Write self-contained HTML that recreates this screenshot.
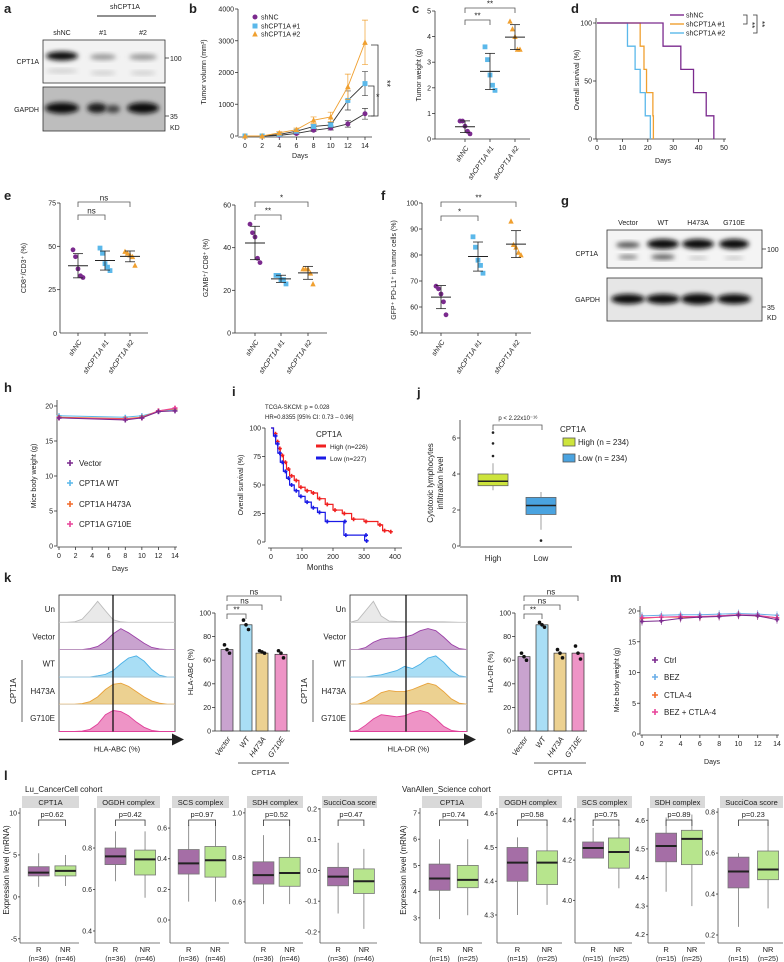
<!DOCTYPE html>
<html><head><meta charset="utf-8">
<style>body{margin:0;background:#fff}svg{display:block}text{font-family:"Liberation Sans",sans-serif}</style>
</head><body>
<svg id="fig" width="784" height="962" viewBox="0 0 784 962" xmlns="http://www.w3.org/2000/svg">
<defs>
<filter id="blur" x="-50%" y="-50%" width="200%" height="200%"><feGaussianBlur stdDeviation="2.4"/></filter>
<marker id="arrowhead" markerWidth="8" markerHeight="8" refX="6" refY="4" orient="auto"><path d="M0,0 L8,4 L0,8 z" fill="#222"/></marker>
</defs>
</svg>
<script>
// ---------- data ----------
const bDays=[0,2,4,6,8,10,12,14];
const bShNC=[0,0,20,80,180,250,380,700];
const bShNCErr=[0,0,15,30,40,60,100,170];
const bSh1=[0,0,50,150,300,350,1120,1650];
const bSh1Err=[0,0,30,40,50,80,300,380];
const bSh2=[0,0,100,200,500,600,1550,2950];
const bSh2Err=[0,0,40,50,100,150,400,700];
const groupLabels=['shNC','shCPT1A #1','shCPT1A #2'];
const cNC=[0.7,0.7,0.5,0.3,0.2];
const cSh1=[3.6,3.1,2.5,2.1,1.9];
const cSh2=[4.6,4.3,4.0,3.5,3.5];
const dSurv=[100,80,60,40,20,0];
const dNCt=[0,26,33,38,43,46];
const dSh1t=[0,17,18.5,19.5,22,22.2];
const dSh2t=[0,12,15,17,19,21];
const eCD3NC=[48,44,37,33,32];
const eCD3Sh1=[49,46,40,38,36];
const eCD3Sh2=[47,46,45,44,39];
const eGzNC=[51,47,45,35,33];
const eGzSh1=[27,27,25,25,23];
const eGzSh2=[30,30,30,28,23];
const fNC=[68,67,65,62,57];
const fSh1=[87,83,78,76,73];
const fSh2=[93,84,83,81,80];
const hDays=[0,8,10,12,14];
const hVector=[18.3,18.0,18.3,19.2,19.3];
const hWT=[18.6,18.4,18.6,19.2,19.5];
const hH473A=[18.4,18.2,18.4,19.3,19.6];
const hG710E=[18.3,18.1,18.3,19.3,19.7];
const iHighT=[0,8,15,22,30,40,50,60,75,90,110,130,150,175,200,230,260,300,345,360,380];
const iHighS=[100,95,88,82,76,70,64,58,54,48,45,43,38,33,28,25,20,18,15,10,9];
const iLowT=[0,8,15,22,30,40,50,60,75,90,110,130,150,175,232,235,300,302];
const iLowS=[100,93,86,78,70,62,56,50,45,40,35,30,26,18,18,6,6,1];
const jHighBox=[3.1,3.35,3.6,4.0,4.6];
const jHighOut=[5.0,5.7,6.3];
const jLowBox=[0.9,1.75,2.25,2.7,3.0];
const jLowOut=[0.3];
const kRows=['Un','Vector','WT','H473A','G710E'];
const kABCHist=[
 [0,0,0.02,0.15,0.55,1,0.55,0.12,0.02,0,0,0,0,0,0,0],
 [0,0,0,0,0.05,0.15,0.4,0.75,1,0.8,0.55,0.3,0.1,0.03,0,0],
 [0,0,0,0,0,0.05,0.12,0.3,0.62,0.9,1,0.75,0.35,0.08,0,0],
 [0,0,0,0.03,0.12,0.35,0.7,0.95,1,0.85,0.6,0.35,0.15,0.05,0,0],
 [0,0,0,0.02,0.1,0.35,0.8,1,0.95,0.75,0.45,0.2,0.05,0,0,0]];
const kDRHist=[
 [0,0.1,0.55,1,0.3,0.06,0.04,0.03,0.03,0.03,0.03,0.02,0.02,0.01,0,0],
 [0,0,0.1,0.35,0.5,0.55,0.55,0.6,0.7,0.9,1,0.9,0.6,0.25,0.05,0],
 [0,0,0,0.05,0.1,0.2,0.3,0.5,0.4,0.6,0.9,1,0.7,0.3,0.05,0],
 [0,0,0.1,0.3,0.55,0.65,0.6,0.6,0.7,0.85,1,0.9,0.6,0.25,0.05,0],
 [0,0.05,0.3,0.6,0.8,0.75,0.7,0.75,0.9,1,0.9,0.6,0.25,0.05,0,0]];
const kBarLabels=['Vector','WT','H473A','G710E'];
const kABCBars=[69,90,66,65];
const kABCPts=[[73,69,66],[94,90,86],[68,67,66],[68,66,62]];
const kDRBars=[63,90,66,66];
const kDRPts=[[66,63,60],[92,90,88],[69,66,62],[72,66,61]];
const mDays=[0,2,4,6,8,10,12,14];
const mCtrl=[18.3,18.4,18.8,19.0,19.1,19.3,19.2,18.6];
const mBEZ=[19.2,19.3,19.4,19.4,19.5,19.6,19.5,19.3];
const mCTLA=[18.8,19.0,19.0,19.0,19.2,19.4,19.2,18.9];
const mBoth=[18.9,19.0,19.1,19.1,19.2,19.4,19.3,18.9];
const lNames=['CPT1A','OGDH complex','SCS complex','SDH complex','SucciCoa score','CPT1A','OGDH complex','SCS complex','SDH complex','SucciCoa score'];
const lPvals=['p=0.62','p=0.42','p=0.97','p=0.52','p=0.47','p=0.74','p=0.58','p=0.75','p=0.89','p=0.23'];
const lDomains=[[-5.5,10.6],[0.342,0.993],[-0.15,0.731],[0.415,1.022],[-0.236,0.203],[2.04,7.19],[4.217,4.617],[3.788,4.459],[4.171,4.643],[0.161,0.82]];
const lTicks=[[-5,0,5,10],[0.4,0.6,0.8],[0.0,0.2,0.4,0.6],[0.6,0.8,1.0],[-0.2,-0.1,0.0,0.1,0.2],[3,4,5,6,7],[4.3,4.4,4.5,4.6],[4.0,4.2,4.4],[4.2,4.3,4.4,4.5,4.6],[0.2,0.4,0.6,0.8]];
const lTickFmt=[0,1,1,1,1,0,1,1,1,1];
// [lo,q1,med,q3,hi]
const lBoxR=[[1.2,2.5,2.9,3.6,5.2],[0.64,0.72,0.76,0.80,0.88],[0.12,0.30,0.37,0.46,0.62],[0.59,0.68,0.72,0.78,0.90],[-0.14,-0.05,-0.02,0.01,0.09],[2.95,4.05,4.5,5.05,6.0],[4.30,4.40,4.455,4.50,4.53],[4.21,4.21,4.26,4.29,4.36],[4.35,4.455,4.51,4.555,4.61],[0.24,0.43,0.51,0.58,0.60]];
const lBoxNR=[[1.3,2.5,3.1,3.7,5.0],[0.56,0.67,0.745,0.79,0.88],[0.12,0.28,0.39,0.48,0.64],[0.59,0.67,0.73,0.80,0.97],[-0.19,-0.075,-0.035,0.005,0.07],[3.1,4.15,4.45,5.0,6.0],[4.33,4.39,4.455,4.49,4.57],[4.06,4.16,4.24,4.31,4.38],[4.30,4.445,4.535,4.565,4.62],[0.33,0.47,0.52,0.61,0.75]];

// ---------- helpers ----------
const NS='http://www.w3.org/2000/svg';
const svg=document.getElementById('fig');
function mk(tag,attrs,parent){const el=document.createElementNS(NS,tag);for(const k in attrs)el.setAttribute(k,attrs[k]);(parent||svg).appendChild(el);return el;}
function lin(d0,d1,r0,r1){return v=>r0+(v-d0)*(r1-r0)/(d1-d0);}
function T(x,y,s,o){o=o||{};const el=mk('text',{x:x,y:y,'font-size':o.fs||7,'text-anchor':o.a||'start',fill:o.fill||'#222'});
 if(o.rot!==undefined)el.setAttribute('transform','rotate('+o.rot+' '+x+' '+y+')');
 if(o.b)el.setAttribute('font-weight','bold');if(o.i)el.setAttribute('font-style','italic');
 el.textContent=s;
 
 return el;}
function L(x1,y1,x2,y2,o){o=o||{};const el=mk('line',{x1:x1,y1:y1,x2:x2,y2:y2,stroke:o.c||'#333','stroke-width':o.w||0.8});
 
 return el;}
function R(x,y,w,h,o){o=o||{};const el=mk('rect',{x:x,y:y,width:w,height:h,fill:o.f||'none',stroke:o.c||'none','stroke-width':o.w||0.8});
 
 return el;}
function P(d,o){o=o||{};const el=mk('path',{d:d,fill:o.f||'none',stroke:o.c||'#333','stroke-width':o.w||0.8});
 if(o.op)el.setAttribute('fill-opacity',o.op);
 
 return el;}
function marker(shape,x,y,col,name,s){s=s||2.6;let el;
 if(shape==='circle')el=mk('circle',{cx:x,cy:y,r:s,fill:col});
 else if(shape==='square')el=mk('rect',{x:x-s,y:y-s,width:2*s,height:2*s,fill:col});
 else if(shape==='tri')el=mk('path',{d:'M'+x+','+(y-s-0.5)+' L'+(x+s+0.3)+','+(y+s)+' L'+(x-s-0.3)+','+(y+s)+'Z',fill:col});
 else el=mk('path',{d:'M'+(x-s)+','+y+'H'+(x+s)+'M'+x+','+(y-s)+'V'+(y+s),stroke:col,'stroke-width':1.6});
 
 return el;}
function yAxis(x,sc,ticks,fmt,name,y0,y1){L(x,y0,x,y1,{n:name+'-line'});
 ticks.forEach(t=>{const y=sc(t);L(x-3,y,x,y,{n:name+'-tick'});T(x-4,y+2.5,fmt(t),{a:'end',n:name+'-tick-label'});});}
function xAxis(y,sc,ticks,name,x0,x1){L(x0,y,x1,y,{n:name+'-line'});
 ticks.forEach(t=>{const x=sc(t);L(x,y,x,y+3,{n:name+'-tick'});T(x,y+11,String(t),{a:'middle',n:name+'-tick-label'});});}
function sig(x1,x2,y,lab,name){P('M'+x1+','+(y+5)+'V'+y+'H'+x2+'V'+(y+5),{n:name,c:'#555'});T((x1+x2)/2,y-1.5,lab,{a:'middle',fs:8,n:name+'-label'});}
function panel(x,y,s){T(x,y,s,{fs:13,b:true,n:'panel-label-'+s});}
const jit=[-5,-2.5,0,2.5,5];
function dots(xc,vals,sc,shape,col,name){
 vals.forEach((v,i)=>marker(shape,xc+jit[i%5],sc(v),col,name+'-point',2.4));
 const m=vals.reduce((a,b)=>a+b,0)/vals.length;
 const sd=Math.sqrt(vals.reduce((a,b)=>a+(b-m)*(b-m),0)/(vals.length-1));
 L(xc-10,sc(m),xc+10,sc(m),{c:'#222',w:1,n:name+'-mean'});
 L(xc,sc(m-sd),xc,sc(m+sd),{c:'#222',w:0.8,n:name+'-sd'});
 L(xc-5,sc(m-sd),xc+5,sc(m-sd),{c:'#222',n:name+'-sd-cap'});
 L(xc-5,sc(m+sd),xc+5,sc(m+sd),{c:'#222',n:name+'-sd-cap'});}
function catLabels(xs,y,name){groupLabels.forEach((g,i)=>T(xs[i]+4,y,g,{a:'end',rot:-55,i:true,n:name+'-category-label'}));}
const PUR='#7b2a8e',BLU='#5bb8ea',ORA='#f0a030',PNK='#e8449a',ORR='#f26b2b';

// ---------- a: western blot ----------
panel(4,13,'a');
T(125,9,'shCPT1A',{a:'middle',n:'shcpt1a-header'});L(97,16,156,16,{c:'#222',w:1,n:'shcpt1a-bar'});
[['shNC',62],['#1',103],['#2',143]].forEach(l=>T(l[1],35,l[0],{a:'middle',n:'lane-label'}));
function blot(x,y,w,h,bands,name,bg){R(x,y,w,h,{f:bg,c:'#333',n:name});
 bands.forEach(b=>{const e=mk('ellipse',{cx:b[0],cy:b[1],rx:b[2],ry:b[3],fill:b[4],filter:'url(#blur)'});
  
  });}
blot(43,40,122,43,[[62,56,16,4.5,'#111'],[103,57,13,3,'#999'],[143,57,14,3,'#999'],[62,71,16,2,'#ccc'],[103,73,13,2,'#ccc'],[143,73,13,2,'#ccc']],'cpt1a-blot-a','#f2f2f2');
blot(43,87,122,44,[[62,108,17,5.5,'#111'],[97,108,10,5,'#1a1a1a'],[113,109,7,4,'#444'],[143,108,16,5.5,'#111']],'gapdh-blot-a','#bdbdbd');
T(39,64,'CPT1A',{a:'end',n:'blot-label'});T(39,112,'GAPDH',{a:'end',n:'blot-label'});
L(165,58,169,58,{n:'mw-tick'});T(170,61,'100',{n:'mw-label'});L(165,116,169,116,{n:'mw-tick'});T(170,119,'35',{n:'mw-label'});T(170,130,'KD',{n:'mw-unit'});

// ---------- b: tumor volume ----------
panel(189,13,'b');
{const bx=lin(0,14,245,365),by=lin(0,4000,136,9);
 yAxis(238,by,[0,1000,2000,3000,4000],String,'b-y-axis',9,136);
 xAxis(137,bx,bDays,'b-x-axis',238,372);
 T(300,158,'Days',{a:'middle',n:'b-x-title'});
 T(206,72,'Tumor volumn (mm³)',{a:'middle',rot:-90,n:'b-y-title'});
 const ser=[[bShNC,bShNCErr,'circle',PUR,'#333','shnc'],[bSh1,bSh1Err,'square',BLU,'#333','sh1'],[bSh2,bSh2Err,'tri',ORA,ORA,'sh2']];
 ser.forEach(s=>{P(bDays.map((d,i)=>(i?'L':'M')+bx(d)+','+by(s[0][i])).join(''),{c:s[4],w:0.9,n:'b-line-'+s[5]});
  bDays.forEach((d,i)=>{if(s[1][i]>0){const x=bx(d);P('M'+x+','+by(s[0][i]-s[1][i])+'V'+by(s[0][i]+s[1][i])+'M'+(x-3)+','+by(s[0][i]+s[1][i])+'h6M'+(x-3)+','+by(s[0][i]-s[1][i])+'h6',{c:s[4]==='#333'?'#444':ORA,w:0.7,n:'b-errorbar-'+s[5]});}
   marker(s[2],bx(d),by(s[0][i]),s[3],'b-point-'+s[5],2.5);});});
 [['circle',PUR,'shNC',17],['square',BLU,'shCPT1A #1',26],['tri',ORA,'shCPT1A #2',34]].forEach(l=>{marker(l[0],255,l[3],l[1],'b-legend-marker',2.5);T(261,l[3]+2.5,l[2],{n:'b-legend-entry'});});
 P('M371,45H378V116H371',{n:'b-sig-outer'});T(384,80,'**',{rot:90,fs:9,n:'b-sig-label'});
 P('M368,86H374V116H368',{n:'b-sig-inner'});T(376,100,'*',{fs:9,n:'b-sig-label'});}

// ---------- c: tumor weight ----------
panel(412,13,'c');
{const cy=lin(0,5,139,11),xs=[465,490,515];
 yAxis(435,cy,[0,1,2,3,4,5],String,'c-y-axis',11,139);L(435,139,530,139,{n:'c-x-axis'});
 xs.forEach(x=>L(x,139,x,142,{n:'c-x-tick'}));catLabels(xs,148,'c');
 T(421,75,'Tumor weight (g)',{a:'middle',rot:-90,n:'c-y-title'});
 dots(xs[0],cNC,cy,'circle',PUR,'c-shnc');dots(xs[1],cSh1,cy,'square',BLU,'c-sh1');dots(xs[2],cSh2,cy,'tri',ORA,'c-sh2');
 sig(465,490,20,'**','c-sig-1');sig(465,515,8,'**','c-sig-2');}

// ---------- d: survival ----------
panel(571,13,'d');
{const dx=lin(0,50,597,724),dy=lin(0,100,139,23);
 yAxis(596,dy,[0,50,100],String,'d-y-axis',18,139);xAxis(139,dx,[0,10,20,30,40,50],'d-x-axis',596,726);
 T(663,163,'Days',{a:'middle',n:'d-x-title'});T(579,80,'Overall survival (%)',{a:'middle',rot:-90,n:'d-y-title'});
 function steps(ts,col,name){let d='M'+dx(0)+','+dy(100);for(let i=1;i<ts.length;i++){d+='H'+dx(ts[i])+'V'+dy(dSurv[i]);}P(d,{c:col,w:1.3,n:name});}
 steps(dSh2t,BLU,'d-curve-sh2');steps(dSh1t,ORA,'d-curve-sh1');steps(dNCt,PUR,'d-curve-shnc');
 [[PUR,'shNC',15],[ORA,'shCPT1A #1',24],[BLU,'shCPT1A #2',33]].forEach(l=>{L(670,l[2],684,l[2],{c:l[0],w:1.4,n:'d-legend-line'});T(686,l[2]+2.5,l[1],{n:'d-legend-entry'});});
 P('M743,15H747V24H743',{n:'d-sig'});T(749,22,'**',{fs:8,rot:90,n:'d-sig-label'});
 P('M753,15H757V33H753',{n:'d-sig'});T(759,21,'**',{fs:8,rot:90,n:'d-sig-label'});}

// ---------- e ----------
panel(4,200,'e');
{const ey=lin(0,75,333,203),xs=[78,105,130];
 yAxis(60,ey,[25,50,75],String,'e1-y-axis',203,333);T(57,336,'0',{a:'end',n:'e1-y-tick-label'});L(60,333,148,333,{n:'e1-x-axis'});
 xs.forEach(x=>L(x,333,x,336,{n:'e1-x-tick'}));catLabels(xs,342,'e1');
 T(26,268,'CD8⁺/CD3⁺ (%)',{a:'middle',rot:-90,n:'e1-y-title'});
 dots(xs[0],eCD3NC,ey,'circle',PUR,'e1-shnc');dots(xs[1],eCD3Sh1,ey,'square',BLU,'e1-sh1');dots(xs[2],eCD3Sh2,ey,'tri',ORA,'e1-sh2');
 sig(78,105,215,'ns','e1-sig');sig(78,130,202,'ns','e1-sig');}
{const ey=lin(0,60,333,205),xs=[255,281,308];
 yAxis(235,ey,[0,20,40,60],String,'e2-y-axis',205,333);L(235,333,327,333,{n:'e2-x-axis'});
 xs.forEach(x=>L(x,333,x,336,{n:'e2-x-tick'}));catLabels(xs,342,'e2');
 T(208,268,'GZMB⁺/ CD8⁺ (%)',{a:'middle',rot:-90,n:'e2-y-title'});
 dots(xs[0],eGzNC,ey,'circle',PUR,'e2-shnc');dots(xs[1],eGzSh1,ey,'square',BLU,'e2-sh1');dots(xs[2],eGzSh2,ey,'tri',ORA,'e2-sh2');
 sig(255,281,215,'**','e2-sig');sig(255,308,202,'*','e2-sig');}

// ---------- f ----------
panel(381,200,'f');
{const fy=lin(50,100,333,203),xs=[441,478,516];
 yAxis(422,fy,[50,60,70,80,90,100],String,'f-y-axis',203,333);L(422,333,531,333,{n:'f-x-axis'});
 xs.forEach(x=>L(x,333,x,336,{n:'f-x-tick'}));catLabels(xs,342,'f');
 T(396,270,'GFP⁺ PD-L1⁺ in tumor cells (%)',{a:'middle',rot:-90,n:'f-y-title'});
 dots(xs[0],fNC,fy,'circle',PUR,'f-shnc');dots(xs[1],fSh1,fy,'square',BLU,'f-sh1');dots(xs[2],fSh2,fy,'tri',ORA,'f-sh2');
 sig(441,478,216,'*','f-sig');sig(441,516,202,'**','f-sig');}

// ---------- g: blot ----------
panel(561,205,'g');
[['Vector',628],['WT',663],['H473A',698],['G710E',734]].forEach(l=>T(l[1],225,l[0],{a:'middle',n:'g-lane-label'}));
blot(607,230,155,38,[[628,245,12,3,'#555'],[663,244,16,5,'#111'],[698,244,16,5,'#111'],[734,244,15,5,'#111'],[628,257,10,2,'#777'],[663,257,12,2.5,'#555'],[698,258,10,1.5,'#bbb'],[734,258,10,1.5,'#bbb']],'cpt1a-blot-g','#f4f4f4');
blot(607,278,155,43,[[628,299,17,5,'#111'],[663,299,17,5,'#111'],[698,299,17,5.5,'#111'],[734,299,17,5,'#111']],'gapdh-blot-g','#e6e6e6');
T(598,256,'CPT1A',{a:'end',n:'blot-label'});T(600,302,'GAPDH',{a:'end',n:'blot-label'});
L(762,249,766,249,{n:'mw-tick'});T(767,252,'100',{n:'mw-label'});L(762,307,766,307,{n:'mw-tick'});T(767,310,'35',{n:'mw-label'});T(767,320,'KD',{n:'mw-unit'});

// ---------- h ----------
panel(4,392,'h');
{const hx=lin(0,14,59,175),hy=lin(0,20,546,406);
 yAxis(57,hy,[0,5,10,15,20],String,'h-y-axis',400,546);xAxis(547,hx,[0,2,4,6,8,10,12,14],'h-x-axis',57,177);
 T(120,571,'Days',{a:'middle',n:'h-x-title'});T(36,476,'Mice body weight (g)',{a:'middle',rot:-90,n:'h-y-title'});
 const hs=[[hWT,BLU,'wt'],[hH473A,ORR,'h473a'],[hG710E,PNK,'g710e'],[hVector,PUR,'vector']];
 hs.forEach(s=>{P(hDays.map((d,i)=>(i?'L':'M')+hx(d)+','+hy(s[0][i])).join(''),{c:s[1],w:1,n:'h-line-'+s[2]});
  hDays.forEach((d,i)=>marker('plus',hx(d),hy(s[0][i]),s[1],'h-point-'+s[2],2.5));});
 [[PUR,'Vector',463],[BLU,'CPT1A WT',483],[ORR,'CPT1A H473A',504],[PNK,'CPT1A G710E',524]].forEach(l=>{marker('plus',70,l[2],l[0],'h-legend-marker',3);T(79,l[2]+3,l[1],{fs:8,n:'h-legend-entry'});});}

// ---------- i: KM ----------
panel(232,396,'i');
T(265,409,'TCGA-SKCM: p = 0.028',{fs:6,n:'i-stat-text'});T(265,419,'HR=0.8355 [95% CI: 0.73 – 0.96]',{fs:6,n:'i-stat-text'});
{const ix=lin(0,400,271,395),iy=lin(0,100,542,428);
 yAxis(265,iy,[0,25,50,75,100],String,'i-y-axis',428,542);xAxis(548,ix,[0,100,200,300,400],'i-x-axis',268,402);
 T(320,570,'Months',{a:'middle',fs:8,n:'i-x-title'});T(243,485,'Overall survival (%)',{a:'middle',rot:-90,n:'i-y-title'});
 function km(ts,ss,col,name){let d='M'+ix(ts[0])+','+iy(ss[0]);for(let i=1;i<ts.length;i++)d+='H'+ix(ts[i])+'V'+iy(ss[i]);P(d,{c:col,w:1.2,n:name});
  ts.forEach((t,i)=>{if(i>0)marker('plus',ix(t)+2,iy(ss[i]),col,name+'-censor',2);});}
 km(iHighT,iHighS,'#f02020','i-curve-high');km(iLowT,iLowS,'#1a1ae6','i-curve-low');
 T(316,437,'CPT1A',{fs:8,n:'i-legend-title'});
 L(316,446,326,446,{c:'#f02020',w:3,n:'i-legend-swatch'});T(330,449,'High (n=226)',{fs:6.5,n:'i-legend-entry'});
 L(316,458,326,458,{c:'#1a1ae6',w:3,n:'i-legend-swatch'});T(330,461,'Low (n=227)',{fs:6.5,n:'i-legend-entry'});}

// ---------- j: box ----------
panel(417,397,'j');
{const jy=lin(0,6,546,438);
 yAxis(460,jy,[0,2,4,6],String,'j-y-axis',420,546);L(460,547,572,547,{n:'j-x-axis'});
 T(493,561,'High',{a:'middle',fs:8,n:'j-x-label'});T(541,561,'Low',{a:'middle',fs:8,n:'j-x-label'});
 T(433,483,'Cytotoxic lymphocytes',{a:'middle',rot:-90,fs:8,n:'j-y-title'});T(443,483,'infiltration level',{a:'middle',rot:-90,fs:8,n:'j-y-title'});
 function bx(xc,b,outs,col,name){L(xc,jy(b[0]),xc,jy(b[4]),{c:'#888',n:name+'-whisker'});R(xc-15,jy(b[3]),30,jy(b[1])-jy(b[3]),{f:col,c:'#666',n:name+'-box'});
  L(xc-15,jy(b[2]),xc+15,jy(b[2]),{c:'#222',w:1.5,n:name+'-median'});outs.forEach(o=>marker('circle',xc,jy(o),'#222',name+'-outlier',1.3));}
 bx(493,jHighBox,jHighOut,'#cde43c','j-high');bx(541,jLowBox,jLowOut,'#4aa3e0','j-low');
 sig(493,542,425,'','j-sig');T(518,420,'p < 2.22x10⁻¹⁶',{a:'middle',fs:6,n:'j-pvalue'});
 T(560,432,'CPT1A',{fs:8,n:'j-legend-title'});
 R(563,438,12,8,{f:'#cde43c',c:'#555',n:'j-legend-swatch'});T(578,445,'High (n = 234)',{fs:8,n:'j-legend-entry'});
 R(563,454,12,8,{f:'#4aa3e0',c:'#555',n:'j-legend-swatch'});T(578,461,'Low (n = 234)',{fs:8,n:'j-legend-entry'});}

// ---------- k ----------
panel(4,582,'k');panel(610,582,'m');
const kCols=[['#bbb','#e9e9e9'],['#9b3fa6','#c9a3cf'],['#4ab0e6','#a9def5'],['#e8a23a','#ecd191'],['#e0409a','#ee94c6']];
function hist(x0,x1,y0,data,cut,name,lab){const rh=27.3,w=x1-x0;R(x0,y0,w,rh*5,{c:'#333',n:name+'-frame'});
 data.forEach((h,r)=>{const base=y0+rh*(r+1);let d='M'+x0+','+base;h.forEach((v,i)=>{d+='L'+(x0+i*w/(h.length-1))+','+(base-v*21);});d+='L'+x1+','+base+'Z';
  P(d,{f:kCols[r][1],c:kCols[r][0],w:0.9,n:name+'-histogram-'+kRows[r]});
  if(r<4)L(x0,base,x1,base,{c:'#ccc',w:0.5,n:name+'-row-divider'});
  T(x0-4,y0+rh*r+17,kRows[r],{a:'end',fs:8,n:name+'-row-label'});});
 L(cut,y0,cut,y0+rh*5,{c:'#111',w:1.3,n:name+'-gate-line'});
 const ar=L(x0,y0+rh*5+8,x1+6,y0+rh*5+8,{c:'#222',w:1.5,n:name+'-arrow'});ar.setAttribute('marker-end','url(#arrowhead)');
 T((x0+x1)/2,y0+rh*5+20,lab,{a:'middle',fs:7.5,n:name+'-x-title'});
 L(x0-37,660,x0-37,722,{c:'#444',n:name+'-group-line'});T(x0-43,691,'CPT1A',{a:'middle',rot:-90,fs:8,n:name+'-group-label'});}
hist(59,175,595,kABCHist,113,'k-abc','HLA-ABC (%)');
hist(350,467,595,kDRHist,406,'k-dr','HLA-DR (%)');
function bars(ax,xs,vals,pts,name,title){const ky=lin(0,100,731,613);
 yAxis(ax,ky,[0,20,40,60,80,100],String,name+'-y-axis',613,731);L(ax,731,xs[3]+9,731,{n:name+'-x-axis'});
 vals.forEach((v,i)=>{R(xs[i]-6,ky(v),12,731-ky(v),{f:kCols[i+1][1],c:'#333',w:0.7,n:name+'-bar-'+kBarLabels[i]});
  pts[i].forEach((p,j)=>marker('circle',xs[i]+(j-1)*2.5,ky(p),'#111',name+'-point',1.8));
  T(xs[i]+4,739,kBarLabels[i],{a:'end',rot:-55,i:true,fs:7.5,n:name+'-x-label'});});
 L(xs[1]-8,763,xs[3]+8,763,{n:name+'-group-line'});T((xs[1]+xs[3])/2,775,'CPT1A',{a:'middle',fs:7.5,n:name+'-group-label'});
 T(ax-22,672,title,{a:'middle',rot:-90,fs:7.5,n:name+'-y-title'});
 sig(xs[0],xs[1],614,'**',name+'-sig');sig(xs[0],xs[2],605,'ns',name+'-sig');sig(xs[0],xs[3],596,'ns',name+'-sig');}
bars(215,[227,246,262,281],kABCBars,kABCPts,'k-abc-bars','HLA-ABC (%)');
bars(515,[524,542,560,578],kDRBars,kDRPts,'k-dr-bars','HLA-DR (%)');

// ---------- m ----------
{const mx=lin(0,14,642,777),my=lin(0,20,734,611);
 yAxis(640,my,[0,5,10,15,20],String,'m-y-axis',606,734);xAxis(735,mx,mDays,'m-x-axis',640,779);
 T(712,764,'Days',{a:'middle',fs:7,n:'m-x-title'});T(619,680,'Mice body weight (g)',{a:'middle',rot:-90,n:'m-y-title'});
 const ms=[[mBEZ,'#6aaee8','bez'],[mCTLA,ORR,'ctla4'],[mBoth,PNK,'bez-ctla4'],[mCtrl,PUR,'ctrl']];
 ms.forEach(s=>{P(mDays.map((d,i)=>(i?'L':'M')+mx(d)+','+my(s[0][i])).join(''),{c:s[1],w:1,n:'m-line-'+s[2]});
  mDays.forEach((d,i)=>{marker('plus',mx(d),my(s[0][i]),s[1],'m-point-'+s[2],2.2);L(mx(d),my(s[0][i])-4,mx(d),my(s[0][i])+4,{c:s[1],w:0.6,n:'m-errorbar-'+s[2]});});});
 [[PUR,'Ctrl',660],['#6aaee8','BEZ',677],[ORR,'CTLA-4',695],[PNK,'BEZ + CTLA-4',712]].forEach(l=>{marker('plus',655,l[2],l[0],'m-legend-marker',3);T(664,l[2]+3,l[1],{fs:8,n:'m-legend-entry'});});}

// ---------- l ----------
panel(4,780,'l');
T(25,792,'Lu_CancerCell cohort',{fs:8,n:'l-cohort-title'});T(402,792,'VanAllen_Science cohort',{fs:8,n:'l-cohort-title'});
T(9,870,'Expression level (mRNA)',{a:'middle',rot:-90,fs:8,n:'l-y-title'});T(406,870,'Expression level (mRNA)',{a:'middle',rot:-90,fs:8,n:'l-y-title'});
const lAxes=[20,95,170,245,320,420,497,575,648,718];
const lRights=[79,160,229,303,377,482,562,632,705,783];
lNames.forEach((nm,k)=>{const ax=lAxes[k],rt=lRights[k],sc=lin(lDomains[k][0],lDomains[k][1],943,808);const nm2='l-'+(k<5?'lu':'va')+'-'+nm.replace(/\s/g,'-').toLowerCase();
 R(ax+2,796,rt-ax-2,12,{f:'#d9d9d9',n:nm2+'-header'});T((ax+rt)/2+1,805,nm,{a:'middle',fs:7.5,n:nm2+'-header-text'});
 L(ax,808,ax,943,{c:'#555',n:nm2+'-y-axis'});L(ax,943,rt,943,{c:'#555',n:nm2+'-x-axis'});
 lTicks[k].forEach(t=>{const y=sc(t);L(ax-2,y,ax,y,{n:nm2+'-tick'});T(ax-3,y+2.5,t.toFixed(lTickFmt[k]),{a:'end',fs:7,n:nm2+'-tick-label'});});
 const w=rt-ax,xr=ax+w*0.3+1,xn=ax+w*0.77;
 [[lBoxR[k],xr,'#a56ea6','r'],[lBoxNR[k],xn,'#b7e58d','nr']].forEach(b=>{const v=b[0],x=b[1];
  L(x,sc(v[0]),x,sc(v[4]),{c:'#777',n:nm2+'-whisker-'+b[3]});
  R(x-10.5,sc(v[3]),21,sc(v[1])-sc(v[3]),{f:b[2],c:'#777',n:nm2+'-box-'+b[3]});
  L(x-10.5,sc(v[2]),x+10.5,sc(v[2]),{c:'#222',w:2,n:nm2+'-median-'+b[3]});});
 P('M'+xr+',826V820H'+xn+'V826',{c:'#333',n:nm2+'-p-bracket'});T((xr+xn)/2,817,lPvals[k],{a:'middle',fs:7.5,n:nm2+'-p-value'});
 const ns=k<5?['(n=36)','(n=46)']:['(n=15)','(n=25)'];
 T(xr,952,'R',{a:'middle',fs:7.5,n:nm2+'-x-label'});T(xn,952,'NR',{a:'middle',fs:7.5,n:nm2+'-x-label'});
 T(xr,961,ns[0],{a:'middle',fs:7,n:nm2+'-n-label'});T(xn,961,ns[1],{a:'middle',fs:7,n:nm2+'-n-label'});});
</script>
</body></html>
